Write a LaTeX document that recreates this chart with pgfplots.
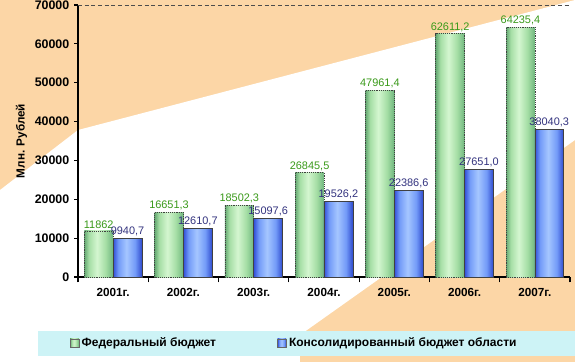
\documentclass[border=0pt]{standalone}
\usepackage{pgfplots}
\pgfplotsset{compat=1.18}
\usepackage{pgfplotstable}
\usepackage{fontspec}
\setmainfont{Liberation Sans}
\definecolor{bgor}{HTML}{FCD6A6}
\definecolor{legc}{HTML}{CDF3F6}
\definecolor{glab}{HTML}{3A9A1A}
\definecolor{blab}{HTML}{33337F}
\pgfdeclarehorizontalshading{gbar}{100bp}{
  color(0bp)=(rgb,255:red,100;green,168;blue,114);
  color(25bp)=(rgb,255:red,100;green,168;blue,114);
  color(33bp)=(rgb,255:red,165;green,222;blue,165);
  color(47bp)=(rgb,255:red,212;green,246;blue,208);
  color(62bp)=(rgb,255:red,165;green,222;blue,165);
  color(75bp)=(rgb,255:red,112;green,182;blue,126);
  color(100bp)=(rgb,255:red,112;green,182;blue,126)}
\pgfdeclarehorizontalshading{bbar}{100bp}{
  color(0bp)=(rgb,255:red,50;green,80;blue,215);
  color(25bp)=(rgb,255:red,50;green,80;blue,215);
  color(34bp)=(rgb,255:red,115;green,155;blue,248);
  color(48bp)=(rgb,255:red,165;green,198;blue,255);
  color(63bp)=(rgb,255:red,115;green,155;blue,248);
  color(75bp)=(rgb,255:red,46;green,74;blue,205);
  color(100bp)=(rgb,255:red,46;green,74;blue,205)}
\pgfplotstableread{
x y lab
0 11862 11862
1 16651.3 16651,3
2 18502.3 18502,3
3 26845.5 26845,5
4 47961.4 47961,4
5 62611.2 62611,2
6 64235.4 64235,4
}\fed
\pgfplotstableread{
x y lab
0 9940.7 9940,7
1 12610.7 12610,7
2 15097.6 15097,6
3 19526.2 19526,2
4 22386.6 22386,6
5 27651.0 27651,0
6 38040.3 38040,3
}\obl
\pgfplotsset{
  fedbar/.style={bar shift=-0.205, draw=black!75, densely dotted, line width=0.4pt,
    shade, shading=gbar,
    nodes near coords style={text=glab}},
  oblbar/.style={bar shift=0.205, draw=black!75, line width=0.4pt,
    shade, shading=bbar,
    nodes near coords style={text=blab}},
}
\begin{document}
\begin{tikzpicture}[x=0.75pt,y=0.75pt]
\path[use as bounding box] (0,0) rectangle (575,362);
\fill[bgor] (0,0) rectangle (575,362);
\fill[white] (0,172) -- (78,232) -- (575,362) -- (575,222) -- (300,27) -- (0,0) -- cycle;
\fill[white] (0,0) rectangle (300,30);
\fill[legc] (38,6) rectangle (575,31);
\begin{axis}[
  at={(58.5pt,63.75pt)}, anchor=south west, scale only axis,
  width=369pt, height=204pt,
  ymin=0, ymax=70000, xmin=-0.5, xmax=6.5,
  ytick={0,10000,...,70000},
  scaled y ticks=false,
  tick label style={font=\bfseries\fontsize{8.8}{10}\selectfont},
  yticklabel style={font=\bfseries\fontsize{9.3}{10}\selectfont, /pgf/number format/.cd, fixed, 1000 sep={}, assume math mode=true},
  yticklabel={\bfseries\pgfmathprintnumber{\tick}},
  xticklabel style={yshift=-2pt},
  xtick={0,...,6},
  xticklabels={2001г.,2002г.,2003г.,2004г.,2005г.,2006г.,2007г.},
  xtick style={draw=none},
  extra x ticks={-0.5,0.5,...,6.5},
  extra x tick labels={},
  extra x tick style={major tick length=4pt, tick style={draw=black, line width=0.8pt}, xtick style={draw=black}},
  axis x line*=bottom, axis y line*=left,
  axis line style={line width=0.9pt, -},
  ytick style={draw=black, line width=0.8pt},
  tick align=outside, major tick length=3pt,
  ylabel={\bfseries Млн. Рублей},
  ylabel style={font=\fontsize{8.8}{10}\selectfont, at={(axis description cs:-0.115,0.5)}, anchor=center},
  ybar, bar width=0.41,
  nodes near coords, point meta=explicit symbolic,
  nodes near coords style={font=\fontsize{8.2}{9}\selectfont, inner sep=1.5pt},
  legend style={at={(axis description cs:-0.025,-0.243)}, anchor=west, draw=none, fill=none,
    legend columns=2, font=\bfseries\fontsize{9}{11}\selectfont,
    /tikz/every even column/.append style={column sep=44pt}},
  legend image code/.code={\draw[#1, draw=black!60, solid] (0pt,-3.2pt) rectangle (6.4pt,3.2pt);},
  clip=false,
]
\addlegendimage{shade, shading=gbar}
\addlegendimage{shade, shading=bbar}
\pgfplotsinvokeforeach{0,...,6}{
\addplot[fedbar, forget plot, x filter/.expression={abs(x-#1)<0.3 ? x : nan}]
  table[x=x, y=y, meta=lab]{\fed};
\addplot[oblbar, forget plot, x filter/.expression={abs(x-#1)<0.3 ? x : nan}]
  table[x=x, y=y, meta=lab]{\obl};
}
\legend{Федеральный бюджет, Консолидированный бюджет области}
\draw[black!70, densely dashed, line width=0.6pt] (rel axis cs:0,1) -- (rel axis cs:1,1);
\end{axis}
\end{tikzpicture}
\end{document}
